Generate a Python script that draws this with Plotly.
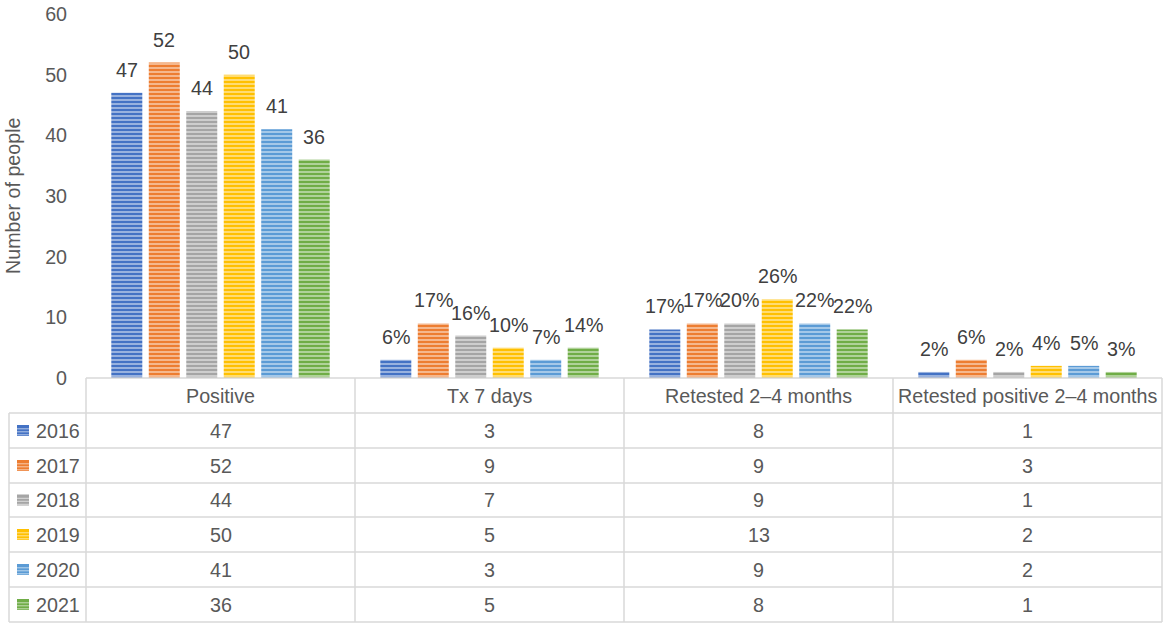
import plotly.graph_objects as go

# ---- data ----
categories = ["Positive", "Tx 7 days", "Retested 2–4 months", "Retested positive 2–4 months"]
years = ["2016", "2017", "2018", "2019", "2020", "2021"]
positive = [47, 52, 44, 50, 41, 36]
tx_7_days = [3, 9, 7, 5, 3, 5]
retested = [8, 9, 9, 13, 9, 8]
retested_pos = [1, 3, 1, 2, 2, 1]
tx_pct = [6, 17, 16, 10, 7, 14]
retested_pct = [17, 17, 20, 26, 22, 22]
retested_pos_pct = [2, 6, 2, 4, 5, 3]
y_ticks = [0, 10, 20, 30, 40, 50, 60]

colors = ["#4472C4", "#ED7D31", "#A5A5A5", "#FFC000", "#5B9BD5", "#70AD47"]

W, H = 1167, 628
FONT = "Liberation Sans, Arial, sans-serif"
FS = 19.7
TXT = "#595959"
LBL = "#404040"
LINE = "#D9D9D9"

# layout geometry (pixels)
x_left, x_right = 86, 1162
y_top, y_zero = 14, 378
leg_left = 9
row_edges = [378, 413, 448, 483, 517, 552, 587, 622]
BARGAP, GROUPGAP = 0.164, 0.173


def px(x):
    return x / W


def py(y):
    return 1 - y / H


col_w = (x_right - x_left) / len(categories)
col_edges = [x_left + k * col_w for k in range(len(categories) + 1)]
slot = col_w * (1 - BARGAP) / len(years)

fig = go.Figure()
annotations = []
for i, yr in enumerate(years):
    vals = [positive[i], tx_7_days[i], retested[i], retested_pos[i]]
    labels = [str(positive[i]), f"{tx_pct[i]}%", f"{retested_pct[i]}%", f"{retested_pos_pct[i]}%"]
    fig.add_trace(go.Bar(
        x=categories, y=vals, name=yr,
        marker=dict(color=colors[i], line=dict(width=0),
                    pattern=dict(shape="-", fgcolor="white", bgcolor=colors[i],
                                 size=4, solidity=0.3, fgopacity=0.75)),
        showlegend=False, hoverinfo="x+y+name",
    ))
    off = (i - (len(years) - 1) / 2) * slot
    for c, v, t in zip(categories, vals, labels):
        annotations.append(dict(x=c, y=v, xref="x", yref="y", text=t, showarrow=False,
                                xshift=off, yshift=10, xanchor="center", yanchor="bottom",
                                font=dict(size=FS, color=LBL, family=FONT)))

shapes = []


def hline(x0, x1, y):
    shapes.append(dict(type="line", xref="paper", yref="paper", x0=px(x0), x1=px(x1),
                       y0=py(y), y1=py(y), line=dict(color=LINE, width=1.5)))


def vline(x, y0, y1):
    shapes.append(dict(type="line", xref="paper", yref="paper", x0=px(x), x1=px(x),
                       y0=py(y0), y1=py(y1), line=dict(color=LINE, width=1.5)))


hline(x_left, x_right, row_edges[0])
for y in row_edges[1:]:
    hline(leg_left, x_right, y)
for x in col_edges:
    vline(x, row_edges[0], row_edges[-1])
vline(leg_left, row_edges[1], row_edges[-1])

# header
for k, cat in enumerate(categories):
    annotations.append(dict(x=px((col_edges[k] + col_edges[k + 1]) / 2), y=py((row_edges[0] + row_edges[1]) / 2),
                            xref="paper", yref="paper", text=cat, showarrow=False,
                            font=dict(size=FS, color=TXT, family=FONT), xanchor="center", yanchor="middle"))
series_cols = [positive, tx_7_days, retested, retested_pos]
for i, yr in enumerate(years):
    yc = (row_edges[i + 1] + row_edges[i + 2]) / 2
    annotations.append(dict(x=px(34), y=py(yc), xref="paper", yref="paper", text=yr, showarrow=False,
                            font=dict(size=FS, color=TXT, family=FONT), xanchor="left", yanchor="middle"))
    # swatch
    shapes.append(dict(type="rect", xref="paper", yref="paper", x0=px(17), x1=px(29),
                       y0=py(yc - 5.5), y1=py(yc + 5.5), fillcolor=colors[i], line=dict(width=0)))
    for d in (-3, 0, 3):
        shapes.append(dict(type="line", xref="paper", yref="paper", x0=px(17), x1=px(29),
                           y0=py(yc + d + 1.3), y1=py(yc + d + 1.3),
                           line=dict(color="rgba(255,255,255,0.6)", width=1)))
    for k in range(len(categories)):
        annotations.append(dict(x=px((col_edges[k] + col_edges[k + 1]) / 2), y=py(yc), xref="paper", yref="paper",
                                text=str(series_cols[k][i]), showarrow=False,
                                font=dict(size=FS, color=TXT, family=FONT), xanchor="center", yanchor="middle"))

# y axis title
annotations.append(dict(x=px(13), y=py((y_top + y_zero) / 2), xref="paper", yref="paper", text="Number of people",
                        textangle=-90, showarrow=False, font=dict(size=FS, color=TXT, family=FONT),
                        xanchor="center", yanchor="middle"))

fig.update_layout(
    template="none",
    width=W, height=H, autosize=False,
    margin=dict(l=0, r=0, t=0, b=0, pad=0),
    paper_bgcolor="white", plot_bgcolor="white",
    barmode="group", bargap=BARGAP, bargroupgap=GROUPGAP,
    xaxis=dict(domain=[px(x_left), px(x_right)], showticklabels=False, showgrid=False,
               zeroline=False, showline=False, ticks="", automargin=False),
    yaxis=dict(domain=[py(y_zero), py(y_top)], range=[0, 60], tickvals=y_ticks,
               showgrid=False, zeroline=False, showline=False, automargin=False,
               ticks="outside", ticklen=14, tickcolor="rgba(0,0,0,0)",
               tickfont=dict(size=FS, color=TXT, family=FONT)),
    shapes=shapes, annotations=annotations,
    font=dict(family=FONT),
)

fig.write_html("out.html", config={"displayModeBar": False},
               post_script="document.body.style.margin='0';document.body.style.overflow='hidden';")
